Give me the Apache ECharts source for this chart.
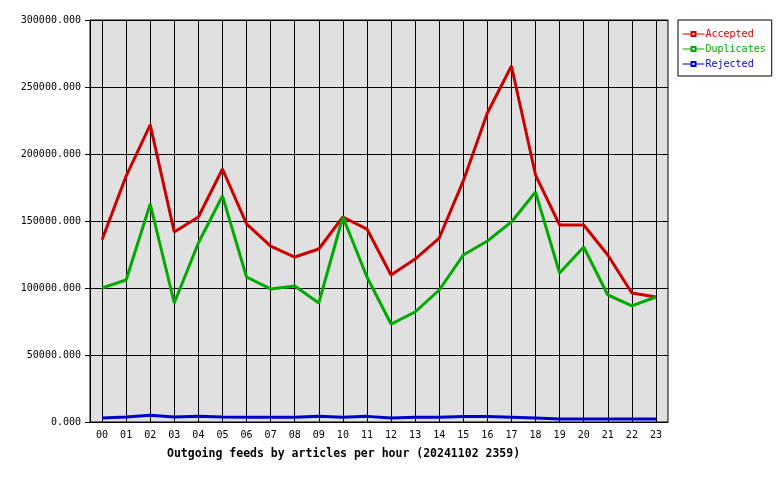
<!DOCTYPE html>
<html>
<head>
<meta charset="utf-8">
<script src="https://cdn.jsdelivr.net/npm/echarts@6/dist/echarts.min.js"></script>
<style>
  html, body { margin: 0; padding: 0; background: #fff; }
  #chart { width: 780px; height: 480px; }
</style>
</head>
<body>
<div id="chart"></div>
<script>
// hours of the day
var hours = ['00', '01', '02', '03', '04', '05', '06', '07', '08', '09', '10', '11',
  '12', '13', '14', '15', '16', '17', '18', '19', '20', '21', '22', '23']

var accepted = [136000, 183500, 221700, 141800, 153000, 188800, 147800, 131300, 123100, 129100, 153000, 144000,
  109700, 121600, 137300, 179900, 230600, 265700, 184300, 147000, 147000, 124600, 96300, 93300]
var duplicates = [100000, 106000, 162700, 88800, 133600, 168700, 108200, 99300, 101500, 88800, 153000, 108200,
  73100, 82100, 98500, 124600, 135100, 149300, 171600, 111200, 130600, 94800, 86600, 93300]
var rejected = [3000, 3700, 5000, 3700, 4300, 3700, 3500, 3500, 3500, 4200, 3600, 4200,
  3000, 3500, 3500, 4100, 4100, 3600, 3000, 2200, 2200, 2200, 2200, 2200]

var mono = 'DejaVu Sans Mono'

var chart = echarts.init(document.getElementById('chart'))

function lineSeries(name, data, color) {
  return {
    name: name,
    type: 'line',
    data: data,
    symbol: 'emptyRect',
    symbolSize: 4,
    showSymbol: false,
    animation: false,
    itemStyle: { color: color, borderWidth: 1 },
    lineStyle: { color: color, width: 3 }
  }
}

chart.setOption({
  backgroundColor: '#fff',
  title: {
    text: 'Outgoing feeds by articles per hour (20241102 2359)',
    left: 162,
    top: 443,
    textStyle: { fontFamily: mono, fontSize: 11.5, fontWeight: 'bold', color: '#000' }
  },
  legend: {
    orient: 'vertical',
    left: 678,
    top: 20,
    padding: [8, 6, 6, 4],
    itemGap: 3,
    itemWidth: 22,
    itemHeight: 5,
    backgroundColor: '#fff',
    borderColor: '#000',
    borderWidth: 1,
    borderRadius: 0,
    lineStyle: { width: 1 },
    textStyle: { fontFamily: mono, fontSize: 10, padding: [0, 0, 0, -4], lineHeight: 12 },
    data: [
      { name: 'Accepted', textStyle: { color: '#cc0000' } },
      { name: 'Duplicates', textStyle: { color: '#00aa00' } },
      { name: 'Rejected', textStyle: { color: '#0000cc' } }
    ]
  },
  grid: {
    left: 90,
    right: 112,
    top: 20,
    bottom: 58,
    show: true,
    backgroundColor: '#e0e0e0',
    borderColor: '#000',
    borderWidth: 1
  },
  xAxis: {
    type: 'category',
    data: hours,
    boundaryGap: true,
    axisLine: { lineStyle: { color: '#000', width: 1 } },
    axisTick: { show: false, alignWithLabel: true },
    axisLabel: { color: '#000', fontFamily: mono, fontSize: 10, margin: 8 },
    splitLine: { show: true, alignWithLabel: true, lineStyle: { color: '#000', width: 1 } }
  },
  yAxis: {
    type: 'value',
    min: 0,
    max: 300000,
    interval: 50000,
    axisLine: { show: true, lineStyle: { color: '#000', width: 1 } },
    axisTick: { show: true, length: 5, lineStyle: { color: '#000' } },
    axisLabel: {
      color: '#000',
      fontFamily: mono,
      fontSize: 10,
      margin: 9,
      formatter: function (v) { return v.toFixed(3) }
    },
    splitLine: { show: true, lineStyle: { color: '#000', width: 1 } }
  },
  series: [
    lineSeries('Accepted', accepted, '#cc0000'),
    lineSeries('Duplicates', duplicates, '#00aa00'),
    lineSeries('Rejected', rejected, '#0000cc')
  ]
})
</script>
</body>
</html>
